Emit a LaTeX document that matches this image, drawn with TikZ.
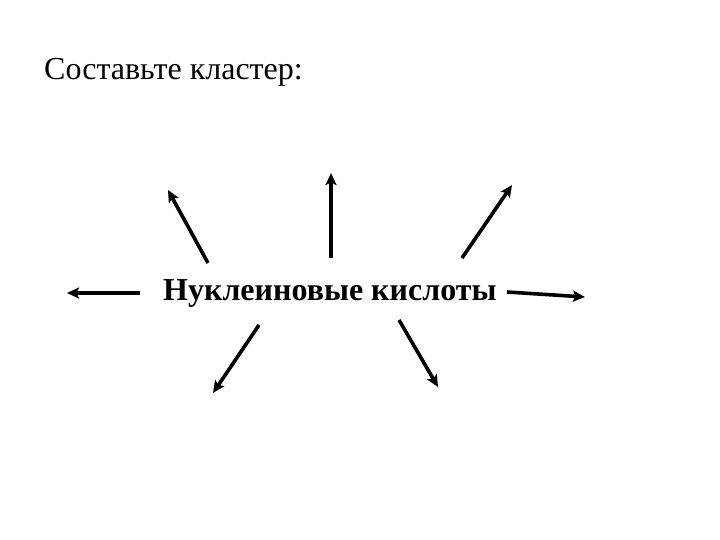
\documentclass[tikz,border=0pt]{standalone}
\usepackage{fontspec}
\setmainfont{Liberation Serif}
\usetikzlibrary{arrows.meta}
\tikzset{
  ray/.style={line width=3.6pt, -{Stealth[length=12pt,width=11pt,inset=2.5pt]}},
}
\begin{document}
\begin{tikzpicture}[x=1pt,y=-1pt]
\useasboundingbox (0,0) rectangle (720,540);
\node[anchor=base west, inner sep=0pt, font=\fontsize{32}{38}\selectfont] (title) at (44,80) {Составьте кластер:};
\node[anchor=base west, inner sep=0pt, font=\fontsize{32}{38}\selectfont\bfseries] (center) at (163,300) {Нуклеиновые кислоты};
\coordinate (s1) at (140,293); \coordinate (e1) at (67,293);
\coordinate (s2) at (208,263); \coordinate (e2) at (168,190);
\coordinate (s3) at (331,258); \coordinate (e3) at (331,173);
\coordinate (s4) at (462,258); \coordinate (e4) at (512,185);
\coordinate (s5) at (507,292); \coordinate (e5) at (585,297);
\coordinate (s6) at (259,325); \coordinate (e6) at (213,393);
\coordinate (s7) at (399,320); \coordinate (e7) at (438,387);
\foreach \i in {1,...,7} { \draw[ray] (s\i) -- (e\i); }
\end{tikzpicture}
\end{document}
